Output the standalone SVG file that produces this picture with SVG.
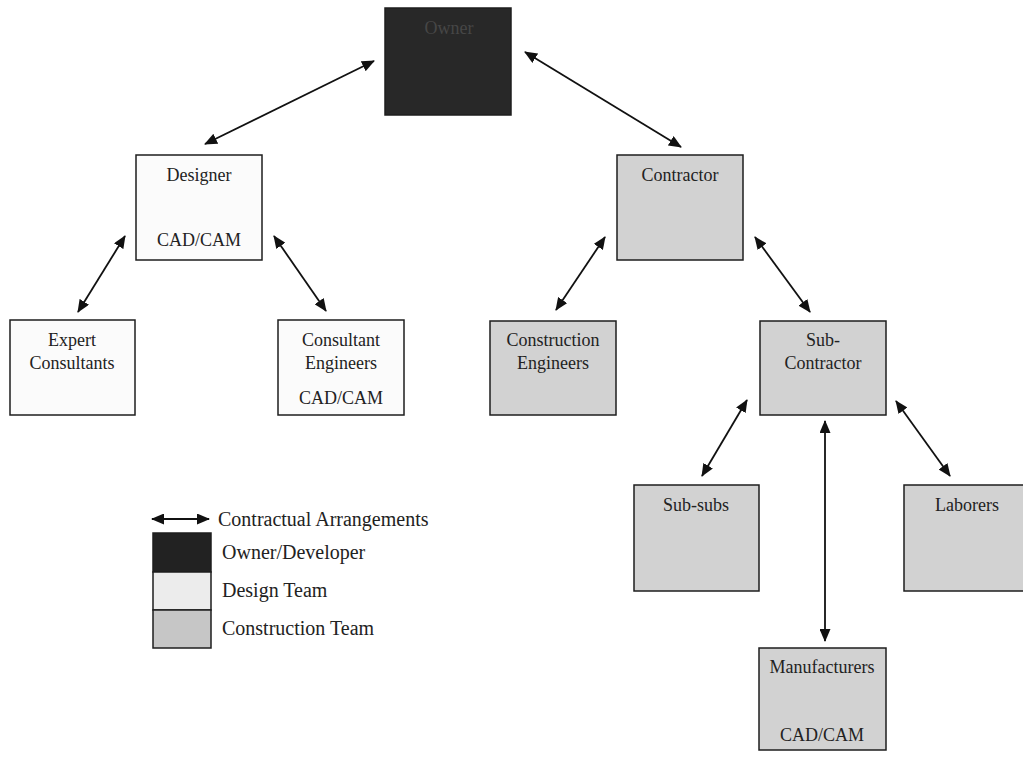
<svg xmlns="http://www.w3.org/2000/svg" width="1023" height="757" viewBox="0 0 1023 757">
<style>
.box{stroke:#1e1e1e;stroke-width:1.5}
.white{fill:#fbfbfb}
.gray{fill:#d2d2d2}
.dark{fill:#282828}
.t{font-family:"Liberation Serif","Times New Roman",serif;font-size:18px;fill:#222;text-anchor:middle}
.lt{font-family:"Liberation Serif","Times New Roman",serif;font-size:20px;fill:#222}
.c{stroke:#111;stroke-width:1.8;fill:none;marker-start:url(#ah);marker-end:url(#ah)}
</style>
<defs>
<marker id="ah" viewBox="0 0 13 11" refX="12" refY="5.5" markerWidth="13" markerHeight="11" markerUnits="userSpaceOnUse" orient="auto-start-reverse">
<path d="M0,0 L13,5.5 L0,11 z" fill="#111"/>
</marker>
</defs>
<rect width="1023" height="757" fill="#ffffff"/>
<g id="connectors">
<line class="c" x1="205" y1="144" x2="374" y2="61"/>
<line class="c" x1="525" y1="52" x2="681" y2="147"/>
<line class="c" x1="125" y1="236" x2="78" y2="312"/>
<line class="c" x1="274" y1="236" x2="326" y2="311"/>
<line class="c" x1="605" y1="237" x2="556" y2="310"/>
<line class="c" x1="755" y1="237" x2="810" y2="312"/>
<line class="c" x1="747" y1="400" x2="702" y2="476"/>
<line class="c" x1="896" y1="401" x2="950" y2="476"/>
<line class="c" x1="825" y1="421" x2="825" y2="641"/>
</g>
<g id="owner">
<rect class="box dark" x="385" y="8" width="126" height="107"/>
<text class="t" x="449" y="34" style="fill:#464646">Owner</text>
</g>
<g id="designer">
<rect class="box white" x="136" y="155" width="126" height="105"/>
<text class="t" x="199" y="181">Designer</text>
<text class="t" x="199" y="246">CAD/CAM</text>
</g>
<g id="contractor">
<rect class="box gray" x="617" y="155" width="126" height="105"/>
<text class="t" x="680" y="181">Contractor</text>
</g>
<g id="expert-consultants">
<rect class="box white" x="10" y="320" width="125" height="95"/>
<text class="t" x="72" y="346">Expert</text>
<text class="t" x="72" y="369">Consultants</text>
</g>
<g id="consultant-engineers">
<rect class="box white" x="278" y="320" width="126" height="95"/>
<text class="t" x="341" y="346">Consultant</text>
<text class="t" x="341" y="369">Engineers</text>
<text class="t" x="341" y="404">CAD/CAM</text>
</g>
<g id="construction-engineers">
<rect class="box gray" x="490" y="321" width="126" height="94"/>
<text class="t" x="553" y="346">Construction</text>
<text class="t" x="553" y="369">Engineers</text>
</g>
<g id="sub-contractor">
<rect class="box gray" x="760" y="321" width="126" height="94"/>
<text class="t" x="823" y="346">Sub-</text>
<text class="t" x="823" y="369">Contractor</text>
</g>
<g id="sub-subs">
<rect class="box gray" x="634" y="485" width="125" height="106"/>
<text class="t" x="696" y="511">Sub-subs</text>
</g>
<g id="laborers">
<rect class="box gray" x="904" y="485" width="126" height="106"/>
<text class="t" x="967" y="511">Laborers</text>
</g>
<g id="manufacturers">
<rect class="box gray" x="759" y="648" width="127" height="102"/>
<text class="t" x="822" y="673">Manufacturers</text>
<text class="t" x="822" y="741">CAD/CAM</text>
</g>
<g id="legend">
<line class="c" x1="152" y1="519" x2="209" y2="519"/>
<text class="lt" x="218" y="526">Contractual Arrangements</text>
<rect class="box" x="153" y="533" width="58" height="39" fill="#222"/>
<rect class="box" x="153" y="572" width="58" height="38" fill="#ececec"/>
<rect class="box" x="153" y="610" width="58" height="38" fill="#c6c6c6"/>
<text class="lt" x="222" y="559">Owner/Developer</text>
<text class="lt" x="222" y="597">Design Team</text>
<text class="lt" x="222" y="635">Construction Team</text>
</g>
</svg>
